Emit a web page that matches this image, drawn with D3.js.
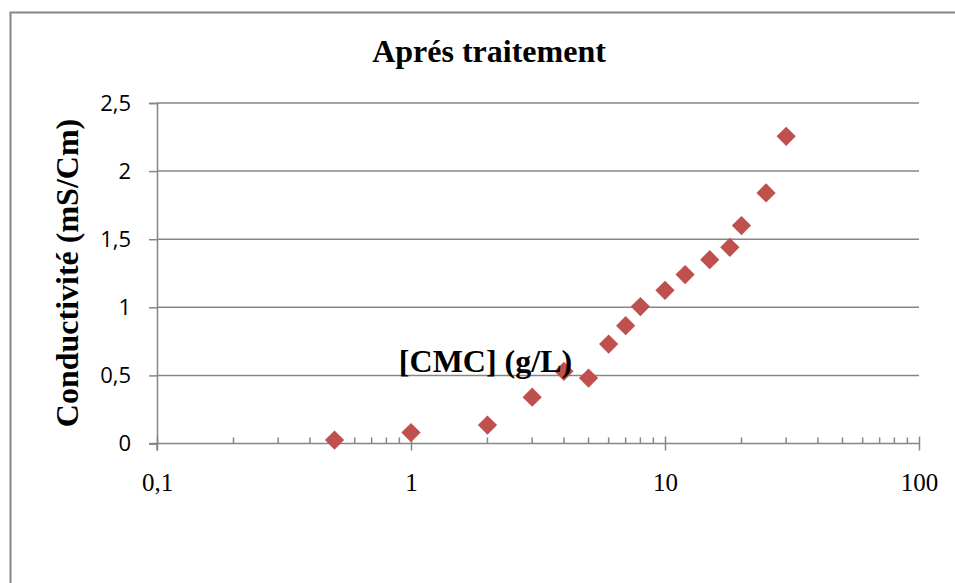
<!DOCTYPE html>
<html>
<head>
<meta charset="utf-8">
<script src="https://cdn.jsdelivr.net/npm/d3@7"></script>
<style>
  body { margin: 0; background: #fff; }
  svg { display: block; }
</style>
</head>
<body>
<svg id="chart" width="955" height="583"></svg>
<script>
// Conductivity vs [CMC], log x axis, Excel-style scatter

const concentrations = [0.5, 1, 2, 3, 4, 5, 6, 7, 8, 10, 12, 15, 18, 20, 25, 30];
const conductivity = [0.025, 0.08, 0.135, 0.34, 0.53, 0.48, 0.73, 0.865, 1.005, 1.125, 1.24, 1.35, 1.44, 1.6, 1.84, 2.255];
const yTicks = [0, 0.5, 1, 1.5, 2, 2.5];
const xTicks = [0.1, 1, 10, 100];

const svg = d3.select('#chart');
const margin = { left: 157, right: 919, top: 103, bottom: 443.5 };

const x = d3.scaleLog().domain([0.1, 100]).range([margin.left, margin.right]);
const y = d3.scaleLinear().domain([0, 2.5]).range([margin.bottom, margin.top]);

const gray = '#868686';
const serif = '"Liberation Serif", "Times New Roman", serif';
const fmt = d => String(d).replace('.', ',');

// Outer chart border
svg.append('rect')
  .attr('x', 10.5).attr('y', 12.5)
  .attr('width', 970).attr('height', 600)
  .attr('fill', 'none').attr('stroke', gray).attr('stroke-width', 2);

// Horizontal gridlines
svg.append('g')
  .selectAll('line')
  .data(yTicks.filter(d => d > 0))
  .join('line')
  .attr('x1', margin.left).attr('x2', margin.right)
  .attr('y1', d => y(d)).attr('y2', d => y(d))
  .attr('stroke', gray).attr('stroke-width', 1.5);

// Y axis
const yAxis = svg.append('g')
  .attr('transform', `translate(${margin.left},0)`)
  .call(d3.axisLeft(y).tickValues(yTicks).tickFormat(fmt).tickSize(8).tickPadding(18));
yAxis.select('.domain').attr('stroke', gray).attr('stroke-width', 1.5);
yAxis.selectAll('.tick line').attr('stroke', gray).attr('stroke-width', 1.5);
yAxis.selectAll('.tick text')
  .attr('font-family', '"Open Sans", "Noto Sans", sans-serif')
  .attr('font-size', 22).attr('fill', '#000');

// X axis: minor ticks inside, major ticks crossing
const minorTicks = x.ticks().filter(d => !xTicks.includes(d));
svg.append('g')
  .selectAll('line')
  .data(minorTicks)
  .join('line')
  .attr('x1', d => x(d)).attr('x2', d => x(d))
  .attr('y1', margin.bottom - 6).attr('y2', margin.bottom)
  .attr('stroke', gray).attr('stroke-width', 1.5);

const xAxis = svg.append('g')
  .attr('transform', `translate(0,${margin.bottom})`)
  .call(d3.axisBottom(x).tickValues(xTicks).tickFormat(fmt).tickSizeInner(7).tickSizeOuter(0).tickPadding(23));
xAxis.select('.domain').attr('stroke', gray).attr('stroke-width', 1.5)
  .attr('d', `M${margin.left - 8},0H${margin.right}`);
xAxis.selectAll('.tick line').attr('stroke', gray).attr('stroke-width', 1.5).attr('y1', -7);
xAxis.selectAll('.tick text')
  .attr('font-family', serif)
  .attr('font-size', 25).attr('fill', '#000');

// Y axis line extends below like a crossing tick
svg.append('line')
  .attr('x1', margin.left).attr('x2', margin.left)
  .attr('y1', margin.bottom).attr('y2', margin.bottom + 7)
  .attr('stroke', gray).attr('stroke-width', 1.5);

// Data markers (diamonds)
const diamond = d3.symbol().type(d3.symbolSquare).size(185);
svg.append('g')
  .selectAll('path')
  .data(concentrations.map((c, i) => [c, conductivity[i]]))
  .join('path')
  .attr('d', diamond)
  .attr('transform', d => `translate(${x(d[0])},${y(d[1])}) rotate(45)`)
  .attr('fill', '#C0504D');

// Titles
svg.append('text')
  .attr('x', 489).attr('y', 62)
  .attr('text-anchor', 'middle')
  .attr('font-family', serif).attr('font-weight', 'bold').attr('font-size', 32)
  .text('Aprés traitement');

svg.append('text')
  .attr('x', 485.5).attr('y', 372)
  .attr('text-anchor', 'middle')
  .attr('font-family', serif).attr('font-weight', 'bold').attr('font-size', 32)
  .text('[CMC] (g/L)');

svg.append('text')
  .attr('transform', 'translate(78,273) rotate(-90)')
  .attr('text-anchor', 'middle')
  .attr('font-family', serif).attr('font-weight', 'bold').attr('font-size', 32)
  .text('Conductivité (mS/Cm)');
</script>
</body>
</html>
